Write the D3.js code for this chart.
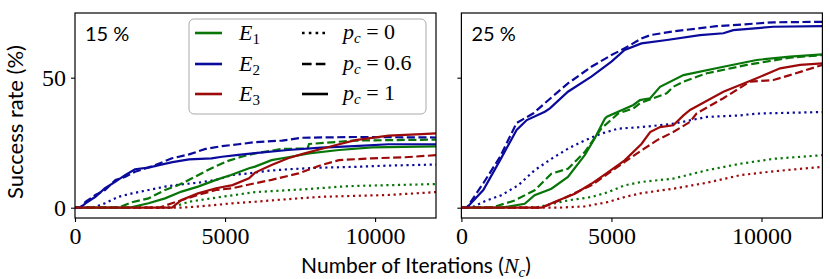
<!DOCTYPE html>
<html><head><meta charset="utf-8">
<script src="https://cdn.jsdelivr.net/npm/d3@7"></script>
<style>body{margin:0;background:#fff;}svg{display:block;}</style>
</head><body>
<svg id="c" width="830" height="279"></svg>
<script>
// ---- data ----
const panels = ["15 %", "25 %"];
const xTicks = [0, 5000, 10000];
const yTicks = [0, 50];
const experiments = ["E1", "E2", "E3"];
const pcValues = ["0", "0.6", "1"];
const colors = {E1: "#087508", E2: "#0a0a9c", E3: "#9c0a0a"};

// left panel (15 %)
const L_E1_p0  = [[0,0],[3200,0],[3800,2.3],[4900,4.2],[6000,6],[7650,7.1],[9100,8.3],[12030,9.1]];
const L_E1_p06 = [[0,0],[1450,0],[1900,2.1],[2450,3.6],[3000,6.8],[3450,8.7],[4000,11.9],[4550,15.2],[5100,18],[5550,19.6],[6000,20.9],[6900,22.6],[7750,22.8],[7800,24.5],[9300,25.8],[12030,26.2]];
const L_E1_p1  = [[0,0],[1800,0],[2450,1.7],[3000,3.6],[3550,6.2],[4100,8.1],[4700,10.7],[5200,12.6],[5800,15.2],[6000,15.8],[6550,18.3],[7100,19.4],[7800,20.9],[8800,22.2],[9900,23.2],[12030,23.6]];
const L_E2_p0  = [[0,0],[600,0],[1000,1.7],[1450,4.2],[1900,5.5],[2450,6.8],[3000,8.1],[3550,9],[4100,9.6],[4700,10.7],[5250,12.6],[5800,13.2],[6350,14.1],[7100,14.8],[8200,15.4],[9300,15.7],[10450,16.2],[12030,16.6]];
const L_E2_p06 = [[0,0],[170,0],[350,2.3],[680,4.9],[1000,6.8],[1350,10.7],[1680,11.9],[2000,13.8],[2680,16.4],[3230,19],[3800,20.5],[4350,22.6],[4900,23.7],[5450,24.4],[6000,25.2],[6900,25.8],[7550,26.9],[9300,27.2],[12030,27]];
const L_E2_p1  = [[0,0],[170,0],[350,1.7],[680,4.2],[1000,7.5],[1350,10],[1680,12.6],[2000,14.8],[2450,15.4],[2800,16.4],[3250,17.5],[3800,18.6],[4550,19],[4900,19.6],[5450,20.3],[6000,21],[7100,22.2],[8200,23.1],[9300,23.7],[10450,24.4],[12030,24.4]];
const L_E3_p0  = [[0,0],[3550,0],[4350,0.7],[5250,1.7],[6000,2.3],[7100,3.3],[8200,4.2],[10450,4.9],[12030,6]];
const L_E3_p06 = [[0,0],[2800,0],[3230,1.7],[4100,4.9],[4700,6.8],[5250,7.5],[6000,9.4],[6550,10.7],[7450,13.2],[8200,16.4],[8800,18.3],[9900,19],[11000,19.4],[12030,20.2]];
const L_E3_p1  = [[0,0],[3230,0],[3550,3],[4100,5.5],[4700,7.5],[5250,8.7],[5800,11.3],[6000,13.5],[6550,16.4],[7100,19],[7650,20.9],[8200,22.6],[8800,24.4],[9350,26],[10450,27.7],[11550,28.3],[12030,28.6]];

// right panel (25 %)
const R_E1_p0  = [[0,0],[2440,0],[3550,2.8],[4330,4.1],[4890,6],[5440,8.6],[6000,9.9],[7060,11.2],[8180,14.4],[9290,16.9],[10400,18.8],[12030,20.2]];
const R_E1_p06 = [[0,0],[1000,0],[1780,2.8],[2440,6.7],[3000,13.1],[3550,15],[4110,21.4],[4660,30.4],[5220,36.2],[5730,38.2],[5950,40.2],[6840,44],[7060,46.5],[7400,48.5],[8180,51.7],[9510,54.9],[10950,57.7],[12030,58.7]];
const R_E1_p1  = [[0,0],[1330,0],[2110,1.5],[2440,4.8],[3000,7.3],[3550,11.8],[4110,20.2],[4440,26.6],[4780,34.2],[4850,35],[5730,39.5],[5950,41.4],[6290,42.1],[6620,46.5],[7400,51],[8730,54.2],[9840,56.8],[10950,58.1],[12030,59]];
const R_E2_p0  = [[0,0],[330,0],[780,2.5],[1330,4.8],[1890,8.6],[2440,14.4],[3000,18.8],[3550,22.7],[4110,25.9],[4660,28.5],[5220,30.4],[6000,31],[7060,32.3],[8180,34.9],[9290,35.5],[9840,36.2],[12030,36.8]];
const R_E2_p06 = [[0,0],[180,0],[730,9.4],[1290,19.6],[1840,32.6],[2400,36.3],[2780,40.2],[3550,47.8],[4330,54.2],[5000,58.7],[5440,61.3],[6000,65.1],[6300,66.4],[7060,67.8],[8500,69.8],[10400,71.3],[12030,71.5]];
const R_E2_p1  = [[0,0],[180,0],[730,6.8],[1290,18.3],[1840,29.9],[2180,33.7],[2780,36.9],[2950,38.2],[3550,44.6],[4330,50.4],[5000,56.2],[5440,60.7],[6000,63.2],[6850,64.5],[7950,66.4],[8730,67.1],[9060,68.3],[10400,69.6],[12030,69.8]];
const R_E3_p0  = [[0,0],[3220,0],[4110,0.5],[4890,2.2],[5440,4.1],[6000,5.6],[7060,7.3],[8180,9.6],[9290,12.5],[10400,14],[12030,15.7]];
const R_E3_p06 = [[0,0],[2660,0],[3220,2.6],[4330,8.6],[5440,17.6],[6000,22],[6510,25.9],[7060,29.1],[7620,33],[7840,36.3],[8730,42.1],[9620,48.5],[10400,49.1],[10950,51],[12030,54.9]];
const R_E3_p1  = [[0,0],[2660,0],[3220,2.8],[3780,5.4],[4330,9.2],[4890,13.7],[5440,18.2],[6000,24.5],[6290,29.1],[6620,31],[7060,31.7],[7400,35.5],[7620,37.6],[8730,44.6],[9840,49.8],[10620,53.6],[11290,54.9],[12030,55.5]];

const seriesLeft = {
  E1: {"0": L_E1_p0, "0.6": L_E1_p06, "1": L_E1_p1},
  E2: {"0": L_E2_p0, "0.6": L_E2_p06, "1": L_E2_p1},
  E3: {"0": L_E3_p0, "0.6": L_E3_p06, "1": L_E3_p1}
};
const seriesRight = {
  E1: {"0": R_E1_p0, "0.6": R_E1_p06, "1": R_E1_p1},
  E2: {"0": R_E2_p0, "0.6": R_E2_p06, "1": R_E2_p1},
  E3: {"0": R_E3_p0, "0.6": R_E3_p06, "1": R_E3_p1}
};

// ---- layout ----
const svg = d3.select("#c");
const LW = 2.2;
const dashes = {"0": "2.2,3.6", "0.6": "8.1,3.5", "1": null};
const plotTop = 13, plotBottom = 218;
const y = d3.scaleLinear().domain([-3.96, 74.88]).range([plotBottom, plotTop]);
const panelX = [[75, 436], [461.4, 822.4]];
const sans = "Lato, 'DejaVu Sans', sans-serif";
const serif = "'Liberation Serif', 'DejaVu Serif', serif";

[seriesLeft, seriesRight].forEach((series, pi) => {
  const [x0, x1] = panelX[pi];
  const x = d3.scaleLinear().domain([0, 12030]).range([x0, x1]);
  const g = svg.append("g");
  const clipId = "clip" + pi;
  svg.append("clipPath").attr("id", clipId).append("rect")
    .attr("x", x0).attr("y", plotTop).attr("width", x1 - x0).attr("height", plotBottom - plotTop);
  const line = d3.line().x(d => x(d[0])).y(d => y(d[1]));
  const lg = g.append("g").attr("clip-path", `url(#${clipId})`);
  pcValues.forEach(pc => {
    experiments.forEach(e => {
      lg.append("path").attr("d", line(series[e][pc]))
        .attr("fill", "none").attr("stroke", colors[e]).attr("stroke-width", LW)
        .attr("stroke-dasharray", dashes[pc]).attr("stroke-linejoin", "miter");
    });
  });
  // axes
  const xAxis = d3.axisBottom(x).tickValues(xTicks).tickSize(4).tickPadding(5).tickFormat(d3.format("d"));
  const ax = g.append("g").attr("transform", `translate(0,${plotBottom})`).call(xAxis);
  ax.select(".domain").remove();
  ax.selectAll("text").attr("font-family", serif).attr("font-size", 24).attr("fill", "#000");
  const yAxis = d3.axisLeft(y).tickValues(yTicks).tickSize(4).tickPadding(5);
  if (pi === 1) yAxis.tickFormat("");
  const ay = g.append("g").attr("transform", `translate(${x0},0)`).call(yAxis);
  ay.select(".domain").remove();
  ay.selectAll("text").attr("font-family", serif).attr("font-size", 24).attr("fill", "#000");
  g.selectAll(".tick line").attr("stroke", "#000").attr("stroke-width", 1.1);
  // frame
  g.append("rect").attr("x", x0).attr("y", plotTop).attr("width", x1 - x0).attr("height", plotBottom - plotTop)
    .attr("fill", "none").attr("stroke", "#000").attr("stroke-width", 1.2);
  // panel label
  g.append("text").attr("x", x0 + 10).attr("y", 41).text(panels[pi])
    .attr("font-family", sans).attr("font-size", 20).attr("fill", "#000");
});

// legend
const leg = svg.append("g");
leg.append("rect").attr("x", 189).attr("y", 19).attr("width", 237).attr("height", 95).attr("rx", 5)
  .attr("fill", "#fff").attr("fill-opacity", 0.8).attr("stroke", "#aaa").attr("stroke-width", 1);
const rowY = [33, 64, 94];
experiments.forEach((e, i) => {
  leg.append("line").attr("x1", 195).attr("x2", 222).attr("y1", rowY[i]).attr("y2", rowY[i])
    .attr("stroke", colors[e]).attr("stroke-width", 2.6);
  const t = leg.append("text").attr("x", 239).attr("y", rowY[i] + 7).attr("font-family", serif).attr("font-size", 22);
  t.append("tspan").attr("font-style", "italic").text("E");
  t.append("tspan").attr("font-size", 15).attr("dy", 4).text(e.slice(1));
});
pcValues.forEach((pc, i) => {
  leg.append("line").attr("x1", 302).attr("x2", 328).attr("y1", rowY[i]).attr("y2", rowY[i])
    .attr("stroke", "#000").attr("stroke-width", 2.6).attr("stroke-dasharray", pc === "0" ? "2.6,4.2" : (pc === "0.6" ? "9.6,4.2" : null));
  const t = leg.append("text").attr("x", 343).attr("y", rowY[i] + 6).attr("font-family", serif).attr("font-size", 22);
  t.append("tspan").attr("font-style", "italic").text("p");
  t.append("tspan").attr("font-style", "italic").attr("font-size", 15).attr("dy", 4).text("c");
  t.append("tspan").attr("dy", -4).text(" = " + pc);
});

// axis titles
svg.append("text").attr("transform", "translate(23,122) rotate(-90)").attr("text-anchor", "middle")
  .attr("font-family", sans).attr("font-size", 22).attr("fill", "#000").text("Success rate (%)");
const xt = svg.append("text").attr("x", 416).attr("y", 273).attr("text-anchor", "middle")
  .attr("font-family", sans).attr("font-size", 21).attr("fill", "#000");
xt.append("tspan").text("Number of Iterations (");
xt.append("tspan").attr("font-family", serif).attr("font-style", "italic").attr("font-size", 22).text("N");
xt.append("tspan").attr("font-family", serif).attr("font-style", "italic").attr("font-size", 15).attr("dy", 4).text("c");
xt.append("tspan").attr("dy", -4).text(")");
</script>
</body></html>
